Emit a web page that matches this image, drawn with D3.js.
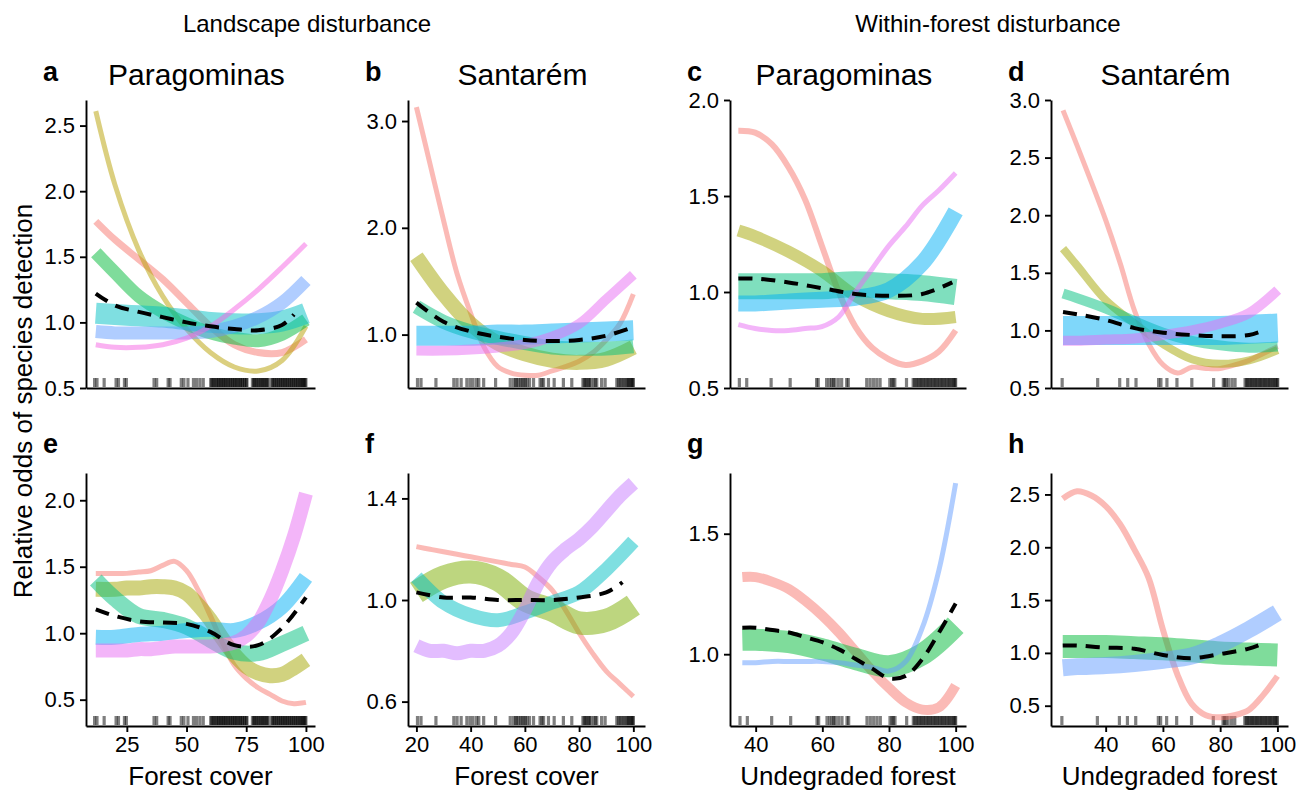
<!DOCTYPE html>
<html>
<head>
<meta charset="utf-8">
<script src="https://cdn.jsdelivr.net/npm/d3@7"></script>
<style>
  body { margin: 0; background: #fff; }
  svg { font-family: "Liberation Sans", Arial, sans-serif; }
</style>
</head>
<body>
<svg id="chart" width="1311" height="793"></svg>
<script>
// ggplot hue palettes (one per number of groups)
const hue6 = ["#F8766D", "#B79F00", "#00BA38", "#00BFC4", "#619CFF", "#F564E3"];
const hue5 = ["#F8766D", "#A3A500", "#00BF7D", "#00B0F6", "#E76BF3"];
const hue4 = ["#F8766D", "#7CAE00", "#00BFC4", "#C77CFF"];
const hue3 = ["#F8766D", "#00BA38", "#619CFF"];

// ---- a: landscape, Paragominas
const aX = [12, 20, 30, 40, 50, 60, 70, 80, 90, 100];
const aRed = [1.77, 1.63, 1.48, 1.33, 1.15, 0.97, 0.83, 0.77, 0.77, 0.87];
const aOlive = [2.61, 2.05, 1.55, 1.2, 0.95, 0.77, 0.66, 0.63, 0.71, 0.97];
const aGreen = [1.53, 1.38, 1.2, 1.08, 0.99, 0.92, 0.88, 0.86, 0.91, 1.02];
const aCyan = [1.07, 1.06, 1.05, 1.04, 1.02, 1.0, 0.99, 0.99, 1.01, 1.07];
const aBlue = [0.93, 0.92, 0.92, 0.92, 0.92, 0.93, 0.97, 1.04, 1.15, 1.32];
const aPink = [0.83, 0.81, 0.81, 0.83, 0.88, 0.97, 1.1, 1.25, 1.42, 1.6];
const aMeanX = [12, 20, 30, 40, 50, 60, 70, 80, 90, 95];
const aMean = [1.22, 1.13, 1.08, 1.04, 1.0, 0.97, 0.95, 0.94, 0.98, 1.06];

// ---- b: landscape, Santarem
const bX = [20, 30, 40, 50, 60, 70, 80, 90, 100];
const bXf = [20, 25, 30, 35, 40, 45, 50, 55, 60, 65, 70, 75, 80, 85, 90, 95, 100];
const bRed = [3.13, 2.6, 2.07, 1.57, 1.2, 0.88, 0.7, 0.64, 0.62, 0.62, 0.66, 0.7, 0.75, 0.83, 0.95, 1.1, 1.38];
const bOlive = [1.73, 1.38, 1.1, 0.92, 0.82, 0.76, 0.74, 0.77, 0.88];
const bGreen = [1.26, 1.12, 1.03, 0.97, 0.92, 0.88, 0.87, 0.87, 0.89];
const bSky = [0.99, 0.99, 0.99, 1.0, 1.0, 1.01, 1.02, 1.03, 1.04];
const bPink = [0.85, 0.85, 0.86, 0.88, 0.91, 0.98, 1.1, 1.33, 1.56];
const bMean = [1.3, 1.12, 1.03, 0.98, 0.95, 0.94, 0.95, 0.99, 1.07];

// ---- c: within-forest, Paragominas
const cX = [35, 40, 50, 60, 70, 80, 90, 100];
const cXf = [35, 40, 45, 50, 55, 60, 65, 70, 75, 80, 85, 90, 95, 100];
const cRed = [1.84, 1.83, 1.77, 1.65, 1.48, 1.24, 1.0, 0.82, 0.71, 0.65, 0.62, 0.64, 0.69, 0.8];
const cOlive = [1.32, 1.29, 1.21, 1.11, 0.98, 0.9, 0.86, 0.87];
const cGreen = [1.03, 1.03, 1.03, 1.03, 1.04, 1.03, 1.02, 1.0];
const cSky = [0.94, 0.94, 0.95, 0.96, 0.97, 1.01, 1.15, 1.42];
const cPink = [0.83, 0.81, 0.8, 0.8, 0.81, 0.82, 0.87, 1.0, 1.12, 1.24, 1.34, 1.45, 1.53, 1.62];
const cMeanX = [35, 40, 50, 60, 70, 80, 90, 99];
const cMean = [1.07, 1.07, 1.05, 1.02, 0.99, 0.98, 0.99, 1.05];

// ---- d: within-forest, Santarem
const dX = [25, 30, 40, 50, 60, 70, 80, 90, 100];
const dXf = [25, 30, 35, 40, 45, 50, 55, 60, 65, 70, 75, 80, 85, 90, 95, 100];
const dRed = [2.91, 2.6, 2.28, 1.95, 1.58, 1.17, 0.88, 0.7, 0.63, 0.68, 0.67, 0.67, 0.7, 0.74, 0.8, 0.86];
const dOlive = [1.71, 1.56, 1.26, 1.06, 0.88, 0.75, 0.71, 0.74, 0.83];
const dGreen = [1.32, 1.28, 1.19, 1.08, 0.98, 0.91, 0.87, 0.85, 0.86];
const dSky = [1.0, 1.0, 1.0, 1.0, 1.0, 1.0, 1.0, 1.01, 1.02];
const dPink = [0.91, 0.91, 0.92, 0.93, 0.96, 1.0, 1.06, 1.15, 1.35];
const dMeanX = [25, 30, 40, 50, 60, 70, 80, 90, 96];
const dMean = [1.16, 1.14, 1.09, 1.02, 0.98, 0.96, 0.95, 0.96, 1.01];

// ---- e: landscape, Paragominas (second model)
const eX = [12, 20, 30, 40, 50, 60, 70, 80, 90, 100];
const eXf = [12, 20, 25, 30, 35, 40, 45, 50, 55, 60, 65, 70, 75, 80, 85, 90, 95, 100];
const eRed = [1.45, 1.45, 1.45, 1.46, 1.47, 1.51, 1.54, 1.47, 1.32, 1.13, 0.93, 0.76, 0.66, 0.59, 0.54, 0.49, 0.47, 0.48];
const eOlive = [1.33, 1.33, 1.34, 1.34, 1.35, 1.35, 1.34, 1.3, 1.21, 1.1, 0.96, 0.84, 0.75, 0.7, 0.68, 0.69, 0.74, 0.8];
const eGreen = [1.4, 1.26, 1.13, 1.1, 1.05, 0.95, 0.86, 0.85, 0.92, 1.0];
const eSky = [0.97, 0.97, 0.99, 1.0, 1.02, 1.03, 1.02, 1.08, 1.2, 1.42];
const ePink = [0.87, 0.87, 0.87, 0.88, 0.88, 0.89, 0.9, 0.9, 0.9, 0.9, 0.91, 0.93, 0.98, 1.08, 1.25, 1.47, 1.73, 2.05];
const eMean = [1.18, 1.13, 1.09, 1.08, 1.07, 1.01, 0.91, 0.91, 1.04, 1.27];

// ---- f: landscape, Santarem (second model)
const fX = [20, 30, 40, 50, 60, 70, 80, 90, 100];
const fXf = [20, 25, 30, 35, 40, 45, 50, 55, 60, 65, 70, 75, 80, 85, 90, 95, 100];
const fRed = [1.21, 1.2, 1.19, 1.18, 1.17, 1.16, 1.15, 1.14, 1.13, 1.09, 1.04, 0.96, 0.87, 0.79, 0.72, 0.67, 0.62];
const fOlive = [1.03, 1.09, 1.11, 1.08, 1.0, 0.96, 0.91, 0.92, 0.98];
const fCyan = [1.09, 0.99, 0.94, 0.92, 0.95, 0.99, 1.03, 1.12, 1.23];
const fViolet = [0.82, 0.8, 0.8, 0.79, 0.8, 0.8, 0.82, 0.87, 0.96, 1.07, 1.15, 1.2, 1.24, 1.29, 1.35, 1.41, 1.46];
const fMeanX = [20, 30, 40, 50, 60, 70, 80, 90, 96];
const fMean = [1.03, 1.01, 1.01, 1.0, 1.0, 1.0, 1.01, 1.03, 1.07];

// ---- g: within-forest, Paragominas (second model)
const gX = [36, 40, 50, 60, 70, 80, 90, 100];
const gXf = [36, 40, 45, 50, 55, 60, 65, 70, 75, 80, 85, 90, 95, 100];
const gRed = [1.32, 1.32, 1.3, 1.27, 1.22, 1.16, 1.09, 1.01, 0.93, 0.86, 0.8, 0.77, 0.78, 0.87];
const gGreen = [1.06, 1.06, 1.05, 1.02, 0.98, 0.95, 1.0, 1.12];
const gBlue = [0.965, 0.965, 0.97, 0.97, 0.97, 0.97, 0.965, 0.955, 0.945, 0.93, 0.97, 1.11, 1.35, 1.71];
const gMean = [1.11, 1.11, 1.1, 1.09, 1.07, 1.05, 1.02, 0.98, 0.94, 0.9, 0.91, 0.98, 1.09, 1.21];

// ---- h: within-forest, Santarem (second model)
const hX = [25, 30, 40, 50, 60, 70, 80, 90, 100];
const hXf = [25, 30, 35, 40, 45, 50, 55, 60, 65, 70, 75, 80, 85, 90, 95, 100];
const hRed = [2.46, 2.53, 2.49, 2.39, 2.22, 1.98, 1.71, 1.22, 0.8, 0.52, 0.41, 0.39, 0.41, 0.46, 0.6, 0.78];
const hGreen = [1.06, 1.06, 1.06, 1.05, 1.04, 1.02, 1.0, 0.99, 0.98];
const hBlue = [0.86, 0.87, 0.88, 0.9, 0.93, 0.97, 1.08, 1.22, 1.38];
const hMeanX = [25, 30, 40, 50, 60, 70, 80, 90, 96];
const hMean = [1.07, 1.07, 1.05, 1.04, 0.98, 0.95, 0.99, 1.04, 1.1];

// ---- rugs (site values)
const rugLandPar = [11.5, 12.5, 15.5, 20.5, 21.5, 24, 24.8, 36.4, 37.5, 42.3, 43.1, 47.8, 48.9, 50.6, 52.9, 54.2, 55.6, 57,
  60.1, 60.5, 61.1, 61.4, 61.9, 62.5, 62.8, 63.4, 63.7, 64.3, 64.6, 65.2, 65.5, 66.1, 66.3, 66.9, 67.4, 67.7, 68.3,
  68.6, 69.2, 69.5, 70.1, 70.4, 71, 71.3, 71.9, 72.4, 72.6, 73.3, 73.5, 74.2, 74.4, 75.1, 75.3, 77.6, 78.1, 78.4,
  79, 79.3, 79.9, 80.3, 80.8, 81.2, 81.7, 82.1, 82.5, 83, 83.5, 83.8, 84.4, 85.7, 86, 86.6, 86.9, 87.5, 87.8, 88.4,
  88.7, 89.3, 89.6, 90.2, 90.5, 91.1, 91.4, 92, 92.3, 92.9, 93.2, 93.8, 94.1, 94.7, 95, 95.6, 95.9, 96.5, 96.8,
  97.4, 97.7, 98.2, 98.6, 99, 99.3, 99.7, 100];
const rugLandSan = [20.4, 21.7, 27.2, 33.8, 35, 36.5, 38.6, 39.8, 40.9, 42.2, 43, 44.8, 49.2, 54.6, 55.8, 56.6, 57,
  57.7, 58.4, 59, 59.6, 60.2, 60.8, 61.7, 63.2, 65.6, 66.3, 66.9, 68.7, 70.8, 74.2, 77.3, 81.4, 81.9, 82.4, 82.8,
  83.4, 83.8, 84.3, 85.3, 86, 86.5, 88.3, 89.6, 93.9, 94.5, 95.1, 95.6, 96.3, 96.8, 97.5, 97.9, 98.3, 98.7, 99.1,
  99.5, 99.8, 100];
const rugForPar = [35.3, 37.5, 44.8, 50.5, 58.4, 58.9, 61.4, 62.2, 62.9, 63.4, 63.9, 64.9, 65.9, 67.4, 67.9, 73.4,
  74.4, 75.4, 76.4, 77.4, 80.3, 80.9, 81.3, 81.8, 85.3, 87.3, 87.7, 88.2, 88.6, 89, 89.5, 89.8, 90.3, 90.7, 91.1,
  91.6, 91.9, 92.4, 92.8, 93.2, 93.7, 94, 94.5, 94.9, 95.3, 95.8, 96.1, 96.6, 97, 97.4, 97.9, 98.2, 98.7, 99.1,
  99.5, 99.8, 100];
const rugForSan = [24.7, 37.1, 44.8, 47.6, 50.5, 58.4, 59.2, 61.3, 64.8, 70, 77.6, 81, 81.5, 82, 82.8, 84, 85.1,
  88.6, 89.1, 89.5, 90, 90.4, 90.9, 91.3, 91.8, 92.2, 92.7, 93.1, 93.6, 94, 94.5, 94.9, 95.4, 95.8, 96.3, 96.7,
  97.2, 97.6, 98.1, 98.5, 99, 99.4, 99.8, 100];

const panels = [
  { id: "a", title: "Paragominas", left: 86, right: 315, top: 100, bottom: 388, xd: [7.9, 103.8], yd: [0.5, 2.695],
    yt: [0.5, 1, 1.5, 2, 2.5], xt: [], pal: hue6, rug: rugLandPar,
    series: [[aX, aRed, 7], [aX, aOlive, 5], [aX, aGreen, 13], [aX, aCyan, 21], [aX, aBlue, 13], [aX, aPink, 5]],
    mean: [aMeanX, aMean] },
  { id: "b", title: "Santarém", left: 408, right: 645, top: 100, bottom: 388, xd: [16.9, 104.3], yd: [0.5, 3.197],
    yt: [1, 2, 3], xt: [], pal: hue5, rug: rugLandSan,
    series: [[bXf, bRed, 5], [bX, bOlive, 15], [bX, bGreen, 14], [bX, bSky, 20], [bX, bPink, 10]],
    mean: [bX, bMean] },
  { id: "c", title: "Paragominas", left: 730, right: 966, top: 100, bottom: 388, xd: [32.5, 103.1], yd: [0.5, 2.0],
    yt: [0.5, 1, 1.5, 2], xt: [], pal: hue5, rug: rugForPar,
    series: [[cXf, cRed, 6], [cX, cOlive, 12], [cX, cGreen, 26], [cX, cSky, 16], [cXf, cPink, 5]],
    mean: [cMeanX, cMean] },
  { id: "d", title: "Santarém", left: 1051, right: 1288, top: 100, bottom: 388, xd: [20.8, 103.6], yd: [0.5, 3.0],
    yt: [0.5, 1, 1.5, 2, 2.5, 3], xt: [], pal: hue5, rug: rugForSan,
    series: [[dXf, dRed, 5], [dX, dOlive, 8], [dX, dGreen, 10], [dX, dSky, 29], [dX, dPink, 10]],
    mean: [dMeanX, dMean] },
  { id: "e", left: 86, right: 315, top: 473, bottom: 726, xd: [7.9, 103.8], yd: [0.302, 2.205],
    yt: [0.5, 1, 1.5, 2], xt: [25, 50, 75, 100], xlab: "Forest cover", pal: hue5, rug: rugLandPar,
    series: [[eXf, eRed, 5], [eXf, eOlive, 15], [eX, eGreen, 16], [eX, eSky, 15], [eXf, ePink, 14]],
    mean: [eX, eMean] },
  { id: "f", left: 408, right: 645, top: 473, bottom: 726, xd: [16.9, 104.3], yd: [0.504, 1.5],
    yt: [0.6, 1.0, 1.4], xt: [20, 40, 60, 80, 100], xlab: "Forest cover", pal: hue4, rug: rugLandSan,
    series: [[fXf, fRed, 5], [fX, fOlive, 23], [fX, fCyan, 14], [fXf, fViolet, 14]],
    mean: [fMeanX, fMean] },
  { id: "g", left: 730, right: 966, top: 473, bottom: 726, xd: [32.3, 103.1], yd: [0.702, 1.752],
    yt: [1.0, 1.5], xt: [40, 60, 80, 100], xlab: "Undegraded forest", pal: hue3, rug: rugForPar,
    series: [[gXf, gRed, 10], [gX, gGreen, 22], [gXf, gBlue, 5]],
    mean: [gXf, gMean] },
  { id: "h", left: 1051, right: 1288, top: 473, bottom: 726, xd: [20.9, 103.7], yd: [0.308, 2.703],
    yt: [0.5, 1, 1.5, 2, 2.5], xt: [40, 60, 80, 100], xlab: "Undegraded forest", pal: hue3, rug: rugForSan,
    series: [[hXf, hRed, 6], [hX, hGreen, 23], [hX, hBlue, 17]],
    mean: [hMeanX, hMean] }
];

const svg = d3.select("#chart");
const fmt = d3.format(".1f");

panels.forEach(p => {
  const x = d3.scaleLinear().domain(p.xd).range([p.left, p.right]);
  const y = d3.scaleLinear().domain(p.yd).range([p.bottom, p.top]);
  const g = svg.append("g");
  const line = d3.line().x(d => x(d[0])).y(d => y(d[1])).curve(d3.curveCatmullRom.alpha(0.5));

  // rug
  g.append("g").selectAll("line").data(p.rug).join("line")
    .attr("x1", d => x(d)).attr("x2", d => x(d))
    .attr("y1", p.bottom - 10).attr("y2", p.bottom - 1)
    .attr("stroke", "#000").attr("stroke-opacity", 0.5).attr("stroke-width", 3.2);

  // species curves
  p.series.forEach((s, i) => {
    const pts = s[0].map((v, k) => [v, s[1][k]]);
    g.append("path").attr("d", line(pts))
      .attr("fill", "none").attr("stroke", p.pal[i]).attr("stroke-opacity", 0.5)
      .attr("stroke-width", s[2]).attr("stroke-linecap", "butt");
  });

  // community mean
  const mp = p.mean[0].map((v, k) => [v, p.mean[1][k]]);
  g.append("path").attr("d", line(mp))
    .attr("fill", "none").attr("stroke", "#000").attr("stroke-width", 4)
    .attr("stroke-dasharray", "14,9");

  // axes
  const ay = g.append("g").attr("transform", `translate(${p.left},0)`)
    .call(d3.axisLeft(y).tickValues(p.yt).tickFormat(fmt).tickSize(6).tickSizeOuter(0).tickPadding(5));
  const ax = g.append("g").attr("transform", `translate(0,${p.bottom})`)
    .call(d3.axisBottom(x).tickValues(p.xt).tickFormat(d3.format("d")).tickSize(6).tickSizeOuter(0).tickPadding(4));
  [ay, ax].forEach(a => {
    a.selectAll("path, line").attr("stroke", "#000").attr("stroke-width", 1.9);
    a.selectAll("text").attr("fill", "#000").style("font-size", "22px");
  });

  // labels
  const top = p.top < 200;
  g.append("text").attr("x", p.left - 43).attr("y", top ? 81 : 453)
    .style("font-size", "27px").style("font-weight", "bold").text(p.id);
  if (p.title) {
    g.append("text").attr("x", (p.left + p.right) / 2 - 4).attr("y", 85)
      .attr("text-anchor", "middle").style("font-size", "30px").text(p.title);
  }
  if (p.xlab) {
    g.append("text").attr("x", (p.left + p.right) / 2).attr("y", 785)
      .attr("text-anchor", "middle").style("font-size", "26px").text(p.xlab);
  }
});

svg.append("text").attr("x", 307).attr("y", 32).attr("text-anchor", "middle")
  .style("font-size", "24px").text("Landscape disturbance");
svg.append("text").attr("x", 988).attr("y", 32).attr("text-anchor", "middle")
  .style("font-size", "24px").text("Within-forest disturbance");
svg.append("text").attr("transform", "translate(32,401) rotate(-90)").attr("text-anchor", "middle")
  .style("font-size", "26px").text("Relative odds of species detection");
</script>
</body>
</html>
